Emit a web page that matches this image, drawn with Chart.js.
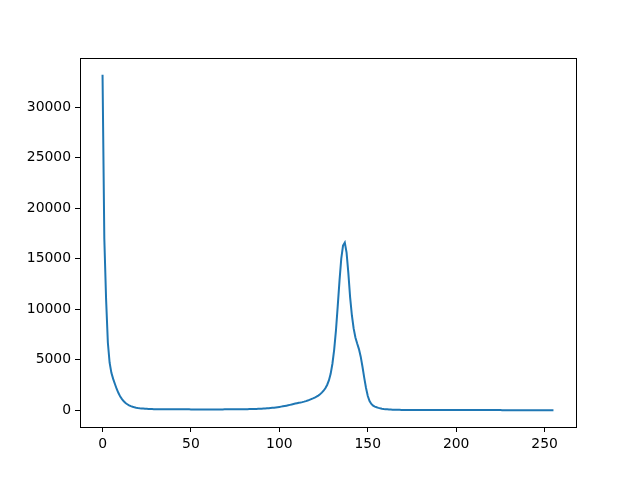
<!DOCTYPE html>
<html>
<head>
<meta charset="utf-8">
<script src="https://cdn.jsdelivr.net/npm/chart.js@4.4.0/dist/chart.umd.min.js"></script>
<style>
  html, body { margin: 0; padding: 0; background: #fff; }
  canvas { display: block; }
</style>
</head>
<body>
<canvas id="grafico" width="640" height="480"></canvas>
<script>
const valores = [
  33200, 17000, 11000, 6700, 4700, 3700, 3100, 2600, 2100, 1700,
  1350, 1100, 880, 720, 590, 480, 400, 340, 290, 250,
  220, 195, 175, 160, 145, 135, 125, 118, 112, 108,
  104, 100, 98, 96, 95, 94, 92, 91, 90, 90,
  89, 88, 88, 87, 87, 86, 86, 85, 85, 85,
  84, 84, 84, 83, 83, 83, 82, 82, 82, 82,
  82, 82, 82, 82, 83, 83, 83, 84, 84, 85,
  85, 86, 87, 88, 89, 90, 92, 94, 96, 98,
  100, 103, 106, 110, 114, 119, 124, 130, 137, 145,
  154, 164, 175, 188, 202, 218, 236, 256, 278, 302,
  328, 356, 386, 418, 452, 490, 530, 572, 616, 660,
  700, 735, 760, 800, 850, 905, 965, 1030, 1100, 1170,
  1250, 1340, 1450, 1580, 1740, 1930, 2180, 2500, 2950, 3600,
  4600, 6000, 7900, 10300, 12800, 15000, 16300, 16600, 15600, 13600,
  11200, 9400, 8100, 7200, 6600, 6050, 5300, 4300, 3200, 2200,
  1400, 900, 620, 460, 360, 290, 235, 190, 155, 125,
  100, 85, 72, 62, 54, 48, 43, 39, 36, 33,
  31, 29, 27, 26, 25, 24, 23, 22, 21, 21,
  20, 20, 19, 19, 19, 18, 18, 18, 17, 17,
  17, 16, 16, 16, 16, 15, 15, 15, 15, 14,
  14, 14, 14, 14, 13, 13, 13, 13, 13, 13,
  12, 12, 12, 12, 12, 12, 12, 11, 11, 11,
  11, 11, 11, 11, 11, 11, 10, 10, 10, 10,
  10, 10, 10, 10, 10, 10, 10, 10, 10, 10,
  10, 10, 10, 10, 10, 10, 10, 10, 10, 10,
  10, 10, 10, 10, 10, 10
];
const ticksX = [0, 50, 100, 150, 200, 250];
const ticksY = [0, 5000, 10000, 15000, 20000, 25000, 30000];

const pontos = valores.map((v, i) => ({ x: i, y: v }));

const fonte = { family: 'DejaVu Sans', size: 13.9 };

// moldura completa (spines de cima e da direita)
const moldura = {
  id: 'moldura',
  afterDraw(chart) {
    const { ctx, chartArea: a } = chart;
    ctx.save();
    ctx.strokeStyle = '#000';
    ctx.lineWidth = 1;
    ctx.strokeRect(Math.round(a.left) + 0.5, Math.round(a.top) + 0.5,
      Math.round(a.right - a.left), Math.round(a.bottom - a.top));
    ctx.restore();
  }
};

new Chart(document.getElementById('grafico'), {
  type: 'line',
  data: {
    datasets: [{
      data: pontos,
      borderColor: '#1f77b4',
      borderWidth: 2,
      pointRadius: 0,
      tension: 0,
      fill: false
    }]
  },
  options: {
    responsive: false,
    animation: false,
    layout: { padding: { left: 0, top: 58, right: 64, bottom: 0 } },
    plugins: { legend: { display: false }, tooltip: { enabled: false } },
    scales: {
      x: {
        type: 'linear',
        min: -12.75,
        max: 267.75,
        afterBuildTicks: s => { s.ticks = ticksX.map(v => ({ value: v })); },
        afterFit: s => { s.height = 53; },
        grid: { drawOnChartArea: false, drawTicks: true, tickLength: 5, color: '#000' },
        border: { display: true, color: '#000' },
        ticks: { color: '#000', font: fonte, padding: 4, maxRotation: 0 }
      },
      y: {
        type: 'linear',
        min: -1660,
        max: 34860,
        afterBuildTicks: s => { s.ticks = ticksY.map(v => ({ value: v })); },
        afterFit: s => { s.width = 80; },
        grid: { drawOnChartArea: false, drawTicks: true, tickLength: 5, color: '#000' },
        border: { display: true, color: '#000' },
        ticks: { color: '#000', font: fonte, padding: 4, callback: v => String(v) }
      }
    }
  },
  plugins: [moldura]
});
</script>
</body>
</html>
